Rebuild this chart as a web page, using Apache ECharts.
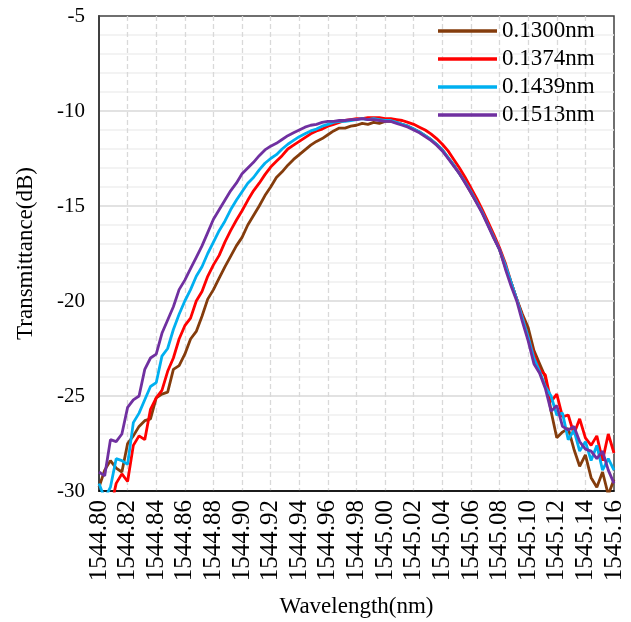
<!DOCTYPE html>
<html>
<head>
<meta charset="utf-8">
<script src="https://cdn.jsdelivr.net/npm/echarts@6/dist/echarts.min.js"></script>
<style>
html,body{margin:0;padding:0;background:#fff;}
#chart{width:631px;height:622px;}
</style>
</head>
<body>
<div id="chart"></div>
<script>
// Wavelength samples (nm)
var wavelength = [
 1544.800,1544.804,1544.808,1544.812,1544.816,1544.820,1544.824,1544.828,1544.832,1544.836,
 1544.840,1544.844,1544.848,1544.852,1544.856,1544.860,1544.864,1544.868,1544.872,1544.876,
 1544.880,1544.884,1544.888,1544.892,1544.896,1544.900,1544.904,1544.908,1544.912,1544.916,
 1544.920,1544.924,1544.928,1544.932,1544.936,1544.940,1544.944,1544.948,1544.952,1544.956,
 1544.960,1544.964,1544.968,1544.972,1544.976,1544.980,1544.984,1544.988,1544.992,1544.996,
 1545.000,1545.004,1545.008,1545.012,1545.016,1545.020,1545.024,1545.028,1545.032,1545.036,
 1545.040,1545.044,1545.048,1545.052,1545.056,1545.060,1545.064,1545.068,1545.072,1545.076,
 1545.080,1545.084,1545.088,1545.092,1545.096,1545.100,1545.104,1545.108,1545.112,1545.116,
 1545.120,1545.124,1545.128,1545.132,1545.136,1545.140,1545.144,1545.148,1545.152,1545.156,1545.160
];

var seriesNames = ['0.1300nm', '0.1374nm', '0.1439nm', '0.1513nm'];

var t0130 = [
 -29.8,-28.9,-28.4,-28.8,-29.0,-27.5,-27.1,-26.6,-26.3,-26.2,
 -25.1,-24.9,-24.8,-23.6,-23.4,-22.8,-22.0,-21.6,-20.8,-19.9,
 -19.4,-18.8,-18.2,-17.65,-17.1,-16.65,-16.0,-15.5,-15.0,-14.45,
 -14.0,-13.5,-13.2,-12.85,-12.55,-12.3,-12.05,-11.8,-11.6,-11.45,
 -11.25,-11.05,-10.9,-10.9,-10.8,-10.75,-10.65,-10.7,-10.6,-10.65,
 -10.55,-10.55,-10.6,-10.7,-10.8,-10.95,-11.1,-11.3,-11.5,-11.75,
 -12.05,-12.45,-12.85,-13.3,-13.75,-14.3,-14.8,-15.35,-16.0,-16.65,
 -17.3,-18.2,-19.0,-19.9,-20.7,-21.4,-22.6,-23.3,-24.0,-25.8,
 -27.2,-26.9,-26.7,-27.8,-28.7,-28.1,-29.3,-29.8,-29.0,-30.2,-29.4
];

var t01374 = [
 -31.0,-31.0,-31.0,-29.6,-29.1,-29.5,-27.6,-27.1,-27.3,-25.7,
 -25.1,-24.7,-23.7,-23.0,-22.0,-21.3,-20.9,-20.0,-19.5,-18.7,
 -18.1,-17.6,-16.9,-16.3,-15.75,-15.25,-14.7,-14.2,-13.8,-13.35,
 -12.95,-12.65,-12.35,-12.0,-11.8,-11.6,-11.4,-11.2,-11.05,-10.95,
 -10.8,-10.7,-10.6,-10.5,-10.45,-10.4,-10.4,-10.35,-10.35,-10.35,
 -10.4,-10.4,-10.45,-10.5,-10.6,-10.7,-10.85,-11.0,-11.2,-11.45,
 -11.75,-12.1,-12.55,-13.0,-13.5,-14.05,-14.6,-15.2,-15.85,-16.5,
 -17.2,-18.0,-19.0,-19.9,-20.8,-21.9,-22.8,-23.6,-23.9,-25.3,
 -24.9,-26.1,-26.0,-27.0,-26.2,-27.2,-27.6,-27.1,-28.4,-27.0,-28.0
];

var t01439 = [
 -29.6,-30.4,-29.8,-28.3,-28.4,-28.6,-26.4,-25.9,-25.2,-24.5,
 -24.3,-22.9,-22.5,-21.5,-20.7,-20.0,-19.4,-18.7,-18.2,-17.5,
 -16.9,-16.3,-15.8,-15.2,-14.7,-14.25,-13.8,-13.5,-13.1,-12.75,
 -12.5,-12.3,-12.0,-11.75,-11.55,-11.35,-11.2,-11.05,-10.95,-10.8,
 -10.7,-10.6,-10.55,-10.55,-10.5,-10.45,-10.4,-10.45,-10.4,-10.45,
 -10.5,-10.5,-10.6,-10.7,-10.8,-10.95,-11.1,-11.3,-11.5,-11.75,
 -12.05,-12.45,-12.85,-13.3,-13.75,-14.25,-14.8,-15.35,-16.0,-16.65,
 -17.3,-18.1,-19.0,-19.9,-20.9,-21.9,-23.0,-23.7,-24.5,-25.0,
 -26.0,-25.9,-27.3,-26.8,-27.9,-27.4,-28.4,-27.6,-28.9,-28.3,-28.9
];

var t01513 = [
 -29.0,-29.2,-27.3,-27.4,-27.0,-25.6,-25.2,-25.0,-23.6,-23.0,
 -22.8,-21.7,-21.0,-20.3,-19.4,-18.9,-18.3,-17.7,-17.1,-16.4,
 -15.7,-15.2,-14.7,-14.2,-13.8,-13.3,-13.0,-12.7,-12.35,-12.05,
 -11.85,-11.7,-11.5,-11.3,-11.15,-11.0,-10.85,-10.75,-10.7,-10.6,
 -10.55,-10.55,-10.5,-10.5,-10.45,-10.45,-10.4,-10.45,-10.45,-10.5,
 -10.55,-10.55,-10.65,-10.75,-10.85,-11.0,-11.15,-11.35,-11.55,-11.8,
 -12.1,-12.5,-12.9,-13.3,-13.8,-14.3,-14.85,-15.4,-16.05,-16.7,
 -17.3,-18.3,-19.2,-20.0,-21.1,-22.1,-23.3,-23.8,-24.6,-25.8,
 -25.5,-26.6,-26.8,-26.6,-27.4,-27.8,-27.9,-28.3,-27.9,-28.9,-29.6
];

var seriesValues = [t0130, t01374, t01439, t01513];
var seriesColors = ['#843C0C', '#FF0000', '#00B0F0', '#7030A0'];

var FONT = '"Liberation Serif", "Times New Roman", serif';

var chart = echarts.init(document.getElementById('chart'), null, {renderer: 'canvas'});

var series = seriesNames.map(function (name, k) {
  return {
    name: name,
    type: 'line',
    symbol: 'none',
    showSymbol: false,
    clip: true,
    lineStyle: {width: 2.8, color: seriesColors[k]},
    itemStyle: {color: seriesColors[k]},
    data: wavelength.map(function (w, i) { return [w, seriesValues[k][i]]; })
  };
});

chart.setOption({
  animation: false,
  backgroundColor: '#ffffff',
  grid: {
    left: 99, right: 17, top: 16, bottom: 131,
    containLabel: false,
    outerBoundsMode: 'none',
    show: true,
    borderColor: '#404040',
    borderWidth: 1.5,
    backgroundColor: 'transparent'
  },
  legend: {
    orient: 'vertical',
    left: 433,
    top: 12,
    icon: 'rect',
    itemWidth: 59,
    itemHeight: 3.5,
    itemGap: 0,
    data: seriesNames,
    textStyle: {fontFamily: FONT, fontSize: 23, color: '#000', lineHeight: 28}
  },
  xAxis: {
    type: 'value',
    min: 1544.80,
    max: 1545.16,
    interval: 0.02,
    name: 'Wavelength(nm)',
    nameLocation: 'middle',
    nameGap: 104,
    nameTextStyle: {fontFamily: FONT, fontSize: 23, color: '#000'},
    axisLine: {show: true, onZero: false, lineStyle: {color: '#000', width: 1.5}},
    axisTick: {show: false},
    axisLabel: {
      rotate: 90,
      margin: 9,
      fontFamily: FONT,
      fontSize: 25,
      color: '#000',
      formatter: function (v) { return v.toFixed(2); }
    },
    splitLine: {show: true, showMinLine: false, showMaxLine: false, lineStyle: {color: '#D9D9D9', width: 1.3, type: [5, 3]}}
  },
  yAxis: {
    type: 'value',
    min: -30,
    max: -5,
    interval: 5,
    name: 'Transmittance(dB)',
    nameLocation: 'middle',
    nameGap: 62,
    nameRotate: 90,
    nameTextStyle: {fontFamily: FONT, fontSize: 23, color: '#000'},
    axisLine: {show: true, lineStyle: {color: '#404040', width: 2}},
    axisTick: {show: false},
    axisLabel: {margin: 14, fontFamily: FONT, fontSize: 21, color: '#000'},
    splitLine: {show: true, showMinLine: false, showMaxLine: false, lineStyle: {color: '#D9D9D9', width: 1.5}},
    minorTick: {show: false, splitNumber: 5},
    minorSplitLine: {show: true, lineStyle: {color: '#EFEFEF', width: 1.5}}
  },
  series: series
});
</script>
</body>
</html>
